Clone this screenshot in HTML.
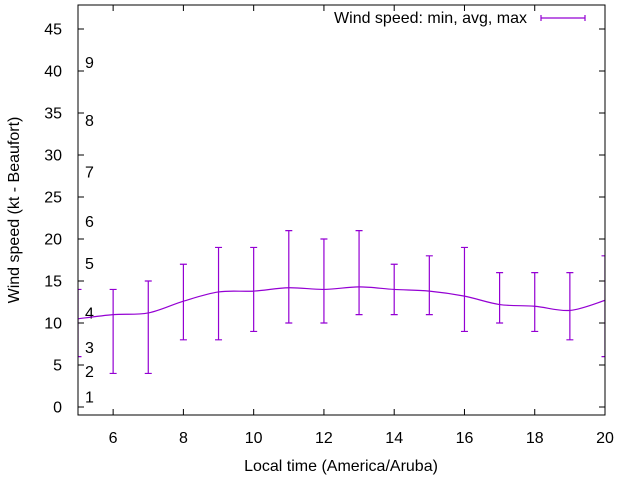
<!DOCTYPE html>
<html><head><meta charset="utf-8"><style>
body{margin:0;background:#fff}
svg{display:block;font-family:"Liberation Sans",sans-serif}
text{font-size:16px;fill:#000}
</style></head><body>
<svg id="chart" width="640" height="480" viewBox="0 0 640 480">
<rect x="0" y="0" width="640" height="480" fill="#fff"/>
<g id="grid"></g>
<g id="plot"></g>
<rect x="78" y="5" width="527" height="410" fill="none" stroke="#000" stroke-width="1"/>
<text x="19" y="210" text-anchor="middle" transform="rotate(-90 19 210)">Wind speed (kt - Beaufort)</text>
<text x="341" y="471" text-anchor="middle">Local time (America/Aruba)</text>
<g>
<text x="527" y="23" text-anchor="end">Wind speed: min, avg, max</text>
<path d="M541 18H585M541 15V21M585 15V21" stroke="#9400d3" stroke-width="1.2" fill="none"/>
</g>
</svg>
<script>
const hours=[5,6,7,8,9,10,11,12,13,14,15,16,17,18,19,20];
const minSpeed=[6,4,4,8,8,9,10,10,11,11,11,9,10,9,8,6];
const avgSpeed=[10.5,11.0,11.2,12.6,13.7,13.8,14.2,14.0,14.3,14.0,13.8,13.2,12.2,12.0,11.5,12.7];
const maxSpeed=[14,14,15,17,19,19,21,20,21,17,18,19,16,16,16,18];
const yTicks=[0,5,10,15,20,25,30,35,40,45];
const xTicks=[6,8,10,12,14,16,18,20];
const beaufortLabels=["1","2","3","4","5","6","7","8","9"];
const beaufortKt=[1.2,4.2,7.1,11.2,17.1,22.1,28,34.1,41];
const L=78,R=605,T=5,B=415,xmin=5,xmax=20,ymin=-0.95,ymax=47.86;
const X=v=>L+(v-xmin)/(xmax-xmin)*(R-L);
const Y=v=>B-(v-ymin)/(ymax-ymin)*(B-T);
const NS="http://www.w3.org/2000/svg";
const g=document.getElementById('grid'),p=document.getElementById('plot');
function mk(par,tag,at){const e=document.createElementNS(NS,tag);for(const k in at)e.setAttribute(k,at[k]);par.appendChild(e);return e;}
yTicks.forEach(v=>{
 const t=mk(g,'path',{d:`M${L} ${Y(v)}H${L+6}M${R} ${Y(v)}H${R-6}`,stroke:'#000'});
 
 
 const l=mk(g,'text',{x:62,y:Y(v)+5.5,'text-anchor':'end'});l.textContent=v;
 
 
});
xTicks.forEach(v=>{
 const t=mk(g,'path',{d:`M${X(v)} ${B}V${B-6}M${X(v)} ${T}V${T+6}`,stroke:'#000'});
 
 
 const l=mk(g,'text',{x:X(v),y:443,'text-anchor':'middle'});l.textContent=v;
 
 
});
beaufortLabels.forEach((s,i)=>{
 const l=mk(g,'text',{x:85,y:Y(beaufortKt[i])+5.5});l.textContent=s;
 
 
});
const clip=mk(p,'clipPath',{id:'c'});mk(clip,'rect',{x:L,y:T,width:R-L,height:B-T});
const cg=mk(p,'g',{'clip-path':'url(#c)'});
hours.forEach((h,i)=>{
 const x=X(h),y1=Y(minSpeed[i]),y2=Y(maxSpeed[i]);
 const e=mk(cg,'path',{d:`M${x} ${y1}V${y2}M${x-3.5} ${y1}H${x+3.5}M${x-3.5} ${y2}H${x+3.5}`,stroke:'#9400d3','stroke-width':1.2,fill:'none'});
 
 
});
let d=`M${X(hours[0])} ${Y(avgSpeed[0])}`;
for(let i=0;i<hours.length-1;i++){
 const p0=i>0?i-1:i,p3=i+2<hours.length?i+2:i+1;
 const x1=X(hours[i]),y1=Y(avgSpeed[i]),x2=X(hours[i+1]),y2=Y(avgSpeed[i+1]);
 const c1x=x1+(x2-X(hours[p0]))/6,c1y=y1+(y2-Y(avgSpeed[p0]))/6;
 const c2x=x2-(X(hours[p3])-x1)/6,c2y=y2-(Y(avgSpeed[p3])-y1)/6;
 d+=`C${c1x} ${c1y} ${c2x} ${c2y} ${x2} ${y2}`;
}
const line=mk(cg,'path',{d:d,stroke:'#9400d3','stroke-width':1.2,fill:'none'});


</script>
</body></html>
